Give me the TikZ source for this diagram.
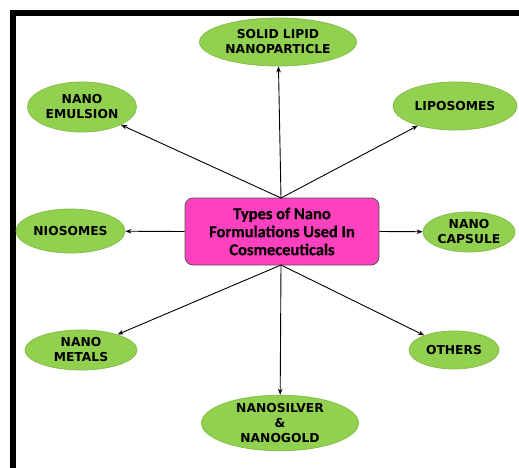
\documentclass[tikz,border=0pt]{standalone}
\usepackage{fontspec}
\setmainfont{DejaVu Sans}[BoldFont={DejaVu Sans Bold}]
\newfontfamily\ovalfont{DejaVu Sans Bold}
\newfontfamily\carlito{Carlito Bold}[FakeBold=0.6]
\usetikzlibrary{shapes.geometric,arrows.meta}
\definecolor{leaf}{HTML}{92D050}
\definecolor{leafedge}{HTML}{86BE4A}
\definecolor{pinkfill}{HTML}{FF40BF}
\definecolor{pinkedge}{HTML}{555555}
\tikzset{
  oval/.style={ellipse, fill=leaf, draw=leafedge, line width=0.8pt, inner sep=0pt,
    align=center, font=\ovalfont\fontsize{12.3}{15}\selectfont},
  hub/.style={rectangle, rounded corners=8pt, fill=pinkfill, draw=pinkedge, line width=0.8pt,
    minimum width=194pt, minimum height=67pt, align=center,
    font=\carlito\fontsize{16.5}{18}\selectfont},
  conn/.style={draw=black, line width=0.9pt, -{Stealth[length=6pt,width=4.5pt]}},
}
\begin{document}
\begin{tikzpicture}[x=1pt,y=-1pt]
\useasboundingbox (0,0) rectangle (519,468);
\fill[black] (10,10) rectangle (519,16);
\fill[black] (10,10) rectangle (16,468);

\node[hub] (c) at (282,231.5) {Types of Nano\\Formulations Used In\\Cosmeceuticals};

\node[oval, minimum width=157pt, minimum height=48pt] (sl) at (278,42) {SOLID LIPID\\NANOPARTICLE};
\node[oval, minimum width=109pt, minimum height=50pt] (ne) at (82,107) {NANO\\EMULSION};
\node[oval, minimum width=124pt, minimum height=48pt] (lp) at (455,106) {LIPOSOMES};
\node[oval, minimum width=109pt, minimum height=44pt] (ni) at (70.5,231) {NIOSOMES};
\node[oval, minimum width=92pt, minimum height=40pt] (nc) at (469,232) {NANO\\CAPSULE};
\node[oval, minimum width=112pt, minimum height=40pt] (nm) at (81,350) {NANO\\METALS};
\node[oval, minimum width=90pt, minimum height=38pt] (ot) at (454,350) {OTHERS};
\node[oval, minimum width=157pt, minimum height=52pt] (ns) at (280,423) {NANOSILVER\\\&\\NANOGOLD};

\coordinate (ct) at (281,198);
\coordinate (cb) at (281,265);

\draw[conn] (ct) -- (sl);
\draw[conn] (ct) -- (ne);
\draw[conn] (ct) -- (lp);
\draw[conn] (c.west) -- (ni);
\draw[conn] (c.east) -- (nc);
\draw[conn] (cb) -- (nm);
\draw[conn] (cb) -- (ns);
\draw[conn] (cb) -- (ot);
\end{tikzpicture}
\end{document}
